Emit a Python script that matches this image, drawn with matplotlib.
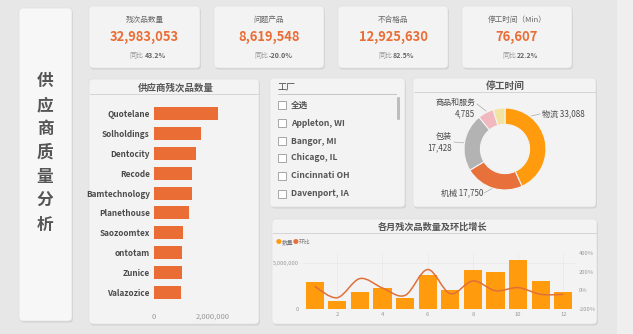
import numpy as np
import matplotlib
matplotlib.use("Agg")
import matplotlib.pyplot as plt
from matplotlib.patches import FancyBboxPatch, Rectangle
from matplotlib.path import Path
from matplotlib.patches import PathPatch

plt.rcParams['font.family'] = ['Noto Sans CJK SC', 'DejaVu Sans']

# ---- data ----
kpi_titles = ['残次品数量', '问题产品', '不合格品', '停工时间（Min）']
kpi_values = [32983053, 8619548, 12925630, 76607]
kpi_yoy = ['43.2%', '-20.0%', '82.5%', '22.2%']

suppliers = ['Quotelane', 'Solholdings', 'Dentocity', 'Recode', 'Bamtechnology',
             'Planethouse', 'Saozoomtex', 'ontotam', 'Zunice', 'Valazozice']
supplier_defects = [2170000, 1590000, 1420000, 1290000, 1280000,
                    1200000, 980000, 950000, 940000, 900000]

plants = ['全选', 'Appleton, WI', 'Bangor, MI', 'Chicago, IL', 'Cincinnati OH', 'Davenport, IA']

downtime_cats = ['物流', '机械', '包装', '商品和服务', '其他']
downtime_vals = [33088, 17750, 17428, 4785, 3556]

months = [1, 2, 3, 4, 5, 6, 7, 8, 9, 10, 11, 12]
month_defects = [2970000, 870000, 1880000, 2320000, 1160000, 3660000,
                 2070000, 4280000, 4020000, 5360000, 3040000, 1850000]
month_mom = [43, -79, 126, 25, -54, 223, -36, 101, -4, 29, -43, -43]

W, H = 633, 334
ORANGE = '#E96D35'
DARK = '#444444'

fig = plt.figure(figsize=(W / 100, H / 100), dpi=100)
fig.patch.set_facecolor('#E7E7E7')
cv = fig.add_axes([0, 0, 1, 1])
cv.set_xlim(0, W)
cv.set_ylim(H, 0)
cv.axis('off')


def sub_axes(x, y, w, h):
    return fig.add_axes([x / W, 1 - (y + h) / H, w / W, h / H])


def panel(x0, y0, x1, y1, fc='#F3F3F3'):
    sh = FancyBboxPatch((x0 + 1, y0 + 1.5), x1 - x0, y1 - y0,
                        boxstyle='round,pad=0,rounding_size=4',
                        fc='#D2D2D2', ec='none', zorder=1)
    cv.add_patch(sh)
    p = FancyBboxPatch((x0, y0), x1 - x0, y1 - y0,
                       boxstyle='round,pad=0,rounding_size=4',
                       fc=fc, ec='#E0E0E0', lw=0.5, zorder=2)
    cv.add_patch(p)


# right strip
cv.add_patch(Rectangle((617, 0), 16, H, fc='#EFEFEF', ec='none', zorder=0))

# title panel
panel(19, 8, 72, 321, fc='#F7F7F7')
cv.text(45, 153, '\n'.join('供应商质量分析'), ha='center', va='center',
        fontsize=12, fontweight='bold', color='#555555', linespacing=1.42, zorder=3)

# KPI cards
card_x = [(89, 200), (214, 324), (338, 448), (462, 572)]
for (x0, x1), t, v, yy in zip(card_x, kpi_titles, kpi_values, kpi_yoy):
    panel(x0, 6, x1, 68)
    cx = (x0 + x1) / 2
    cv.text(cx, 20, t, ha='center', va='center', fontsize=5.5, color='#666666', zorder=3)
    cv.text(cx, 37, f'{v:,}', ha='center', va='center', fontsize=9.3,
            fontweight='bold', color=ORANGE, zorder=3)
    cv.text(cx - 1, 56, '同比', ha='right', va='center', fontsize=5,
            color='#999999', style='italic', zorder=3)
    cv.text(cx, 56, yy, ha='left', va='center', fontsize=5,
            fontweight='bold', color='#666666', zorder=3)

# supplier bar panel
panel(89, 79, 259, 324)
cv.text(176, 88, '供应商残次品数量', ha='center', va='center', fontsize=6.8,
        fontweight='bold', color='#555555', zorder=3)
cv.plot([90, 258], [93.5, 93.5], color='#D0D0D0', lw=0.6, zorder=3)
ax = sub_axes(154, 104, 96, 198)
ax.set_facecolor('none')
ax.barh(range(len(suppliers)), supplier_defects, height=0.66, color=ORANGE)
ax.set_ylim(len(suppliers) - 0.5, -0.5)
ax.set_xlim(0, 3.25e6)
ax.set_yticks(range(len(suppliers)))
ax.set_yticklabels(suppliers, fontsize=5.9, fontweight='bold', color='#4A4A4A')
ax.set_xticks([0, 2e6])
ax.set_xticklabels(['0', '2,000,000'], fontsize=5.5, color='#999999')
ax.tick_params(length=0, pad=3)
ax.tick_params(axis='x', pad=8)
for s in ax.spines.values():
    s.set_visible(False)

# slicer panel
panel(270, 78, 405, 207)
cv.text(278, 88, '工厂', ha='left', va='center', fontsize=6.5, color=DARK, zorder=3)
cv.plot([278, 396], [94, 94], color='#BBBBBB', lw=0.6, zorder=3)
item_y = [105, 123, 141, 158, 176, 194]
for yy, name in zip(item_y, plants):
    cv.add_patch(Rectangle((278, yy - 4), 8, 8, fc='white', ec='#999999', lw=0.6, zorder=3))
    cv.text(291, yy, name, ha='left', va='center', fontsize=6.2,
            fontweight='bold', color='#555555', zorder=3)
cv.add_patch(FancyBboxPatch((397, 97), 3, 23, boxstyle='round,pad=0,rounding_size=1.2',
                            fc='#BDBDBD', ec='none', zorder=3))

# donut panel
panel(413, 78, 596, 207)
cv.text(505, 86, '停工时间', ha='center', va='center', fontsize=7,
        fontweight='bold', color='#555555', zorder=3)
cv.plot([414, 595], [91.5, 91.5], color='#D0D0D0', lw=0.6, zorder=3)
R = 41
dax = sub_axes(505 - 55, 149 - 55, 110, 110)
dax.pie(downtime_vals, colors=['#FF9B0D', '#E8703A', '#B3B3B3', '#F2B8BF', '#F1E3A1'],
        startangle=90, counterclock=False, radius=1,
        wedgeprops=dict(width=0.4, edgecolor='#F3F3F3', linewidth=0.8))
dax.set_xlim(-55 / R, 55 / R)
dax.set_ylim(-55 / R, 55 / R)
dax.set_aspect('equal')
dax.axis('off')
lab_kw = dict(fontsize=5.8, color='#4A4A4A', zorder=3)
cv.plot([531, 540], [116, 114], color='#AAAAAA', lw=0.5, zorder=3)
cv.text(542, 114, f'{downtime_cats[0]} {downtime_vals[0]:,}', ha='left', va='center', **lab_kw)
cv.plot([484, 493], [193, 188], color='#AAAAAA', lw=0.5, zorder=3)
cv.text(483, 193, f'{downtime_cats[1]} {downtime_vals[1]:,}', ha='right', va='center', **lab_kw)
cv.plot([454, 465], [142, 143], color='#AAAAAA', lw=0.5, zorder=3)
cv.text(452, 142, f'{downtime_cats[2]}\n{downtime_vals[2]:,}', ha='right', va='center',
        linespacing=1.3, **lab_kw)
cv.plot([477, 486], [104, 111], color='#AAAAAA', lw=0.5, zorder=3)
cv.text(475, 108, f'{downtime_cats[3]}\n{downtime_vals[3]:,}', ha='right', va='center',
        linespacing=1.3, **lab_kw)

# monthly combo panel
panel(272, 219, 597, 324)
cv.text(433, 227, '各月残次品数量及环比增长', ha='center', va='center', fontsize=6.6,
        fontweight='bold', color='#555555', zorder=3)
cv.plot([273, 596], [232.5, 232.5], color='#D0D0D0', lw=0.6, zorder=3)
cv.text(276, 242, '●', ha='left', va='center', fontsize=4.2, color='#FF9B0D', zorder=3)
cv.text(281.5, 242, '数量', ha='left', va='center', fontsize=4.2, color='#777777', zorder=3)
cv.text(293, 242, '●', ha='left', va='center', fontsize=4.2, color='#E8703A', zorder=3)
cv.text(298.5, 242, '环比', ha='left', va='center', fontsize=4.2, color='#777777', zorder=3)

bax = sub_axes(303.3, 253, 271.4, 56)
bax.set_facecolor('none')
bax.bar(months, month_defects, width=0.8, color='#FF9B0D', zorder=2)
bax.set_xlim(0.5, 12.5)
bax.set_ylim(0, 6.1e6)
bax.set_xticks([2, 4, 6, 8, 10, 12])
bax.set_yticks([0, 5e6])
bax.set_yticklabels(['0', '5,000,000'], fontsize=4.2, color='#999999')
bax.tick_params(axis='x', labelsize=4.2, labelcolor='#999999', length=0, pad=2)
bax.tick_params(axis='y', length=0, pad=3)
bax.grid(True, color='#E6E6E6', lw=0.4)
for s in bax.spines.values():
    s.set_visible(False)

lax = bax.twinx()
lax.set_ylim(-200, 400)
lax.set_yticks([-200, 0, 200, 400])
lax.set_yticklabels(['-200%', '0%', '200%', '400%'], fontsize=4.2, color='#999999')
lax.tick_params(length=0, pad=3)
for s in lax.spines.values():
    s.set_visible(False)

# smooth line (Catmull-Rom as cubic Bezier segments)
xs = np.array(months, dtype=float)
ys = np.array(month_mom, dtype=float)
verts = [(xs[0], ys[0])]
codes = [Path.MOVETO]
n = len(xs)
for i in range(n - 1):
    p0 = np.array([xs[max(i - 1, 0)], ys[max(i - 1, 0)]])
    p1 = np.array([xs[i], ys[i]])
    p2 = np.array([xs[i + 1], ys[i + 1]])
    p3 = np.array([xs[min(i + 2, n - 1)], ys[min(i + 2, n - 1)]])
    c1 = p1 + (p2 - p0) / 6
    c2 = p2 - (p3 - p1) / 6
    verts += [tuple(c1), tuple(c2), tuple(p2)]
    codes += [Path.CURVE4] * 3
lax.add_patch(PathPatch(Path(verts, codes), fc='none', ec='#E0703A', lw=1.1, zorder=3))

fig.savefig('out.png', dpi=100, facecolor=fig.get_facecolor())
